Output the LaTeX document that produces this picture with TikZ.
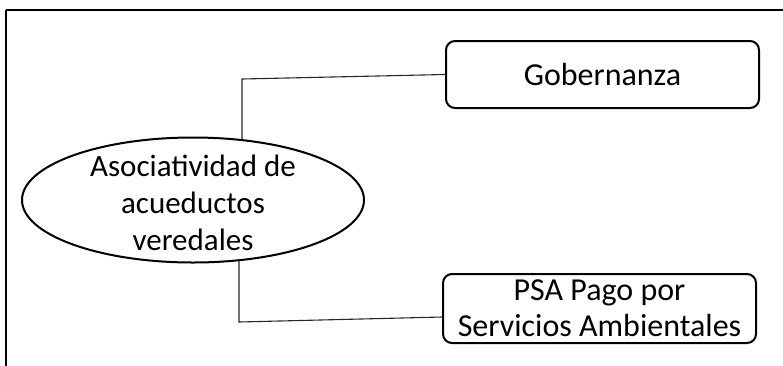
\documentclass[tikz,border=0pt]{standalone}
\usepackage{fontspec}
\setmainfont{Carlito}
\usetikzlibrary{shapes.geometric,calc,backgrounds}
\begin{document}
\begin{tikzpicture}[x=1pt,y=-1pt,
  frame/.style={draw, line width=1.3pt},
  thinline/.style={draw, line width=1.1pt, black!85},
  boxnode/.style={draw, line width=2pt, rounded corners=9pt, minimum width=313pt, inner sep=0pt, align=center, font=\fontsize{32}{36}\selectfont},
  ellnode/.style={ellipse, draw, fill=white, line width=2pt, minimum width=342pt, minimum height=125pt, inner sep=0pt},
  lbl/.style={align=center, inner sep=0pt, font=\fontsize{31}{37}\selectfont}]
\useasboundingbox (0,0) rectangle (783,365);
\begin{scope}
  \clip (0,0) rectangle (783,365);
  \draw[frame] (6,10) -- (820,10);
  \draw[frame] (6,10) -- (6,400);
\end{scope}
\node[ellnode] (asoc) at (193,200) {};
\node[lbl] (asoctext) at (193,203) {Asociatividad de\\acueductos\\veredales};
\node[boxnode, minimum height=67pt] (gob) at (602.5,74.5) {Gobernanza};
\node[boxnode, minimum height=69pt] (psa) at (599.5,308.5) {PSA Pago por\\Servicios Ambientales};
\coordinate (j1) at (242,79);
\coordinate (j2) at (239,322);
\coordinate (p1) at ($(psa.west)+(0,8.5)$);
\begin{scope}[on background layer]
  \draw[thinline] (gob.west) -- (j1) -- (j1 |- asoc.center);
  \draw[thinline] (p1) -- (j2) -- (j2 |- asoc.center);
\end{scope}
\end{tikzpicture}
\end{document}
